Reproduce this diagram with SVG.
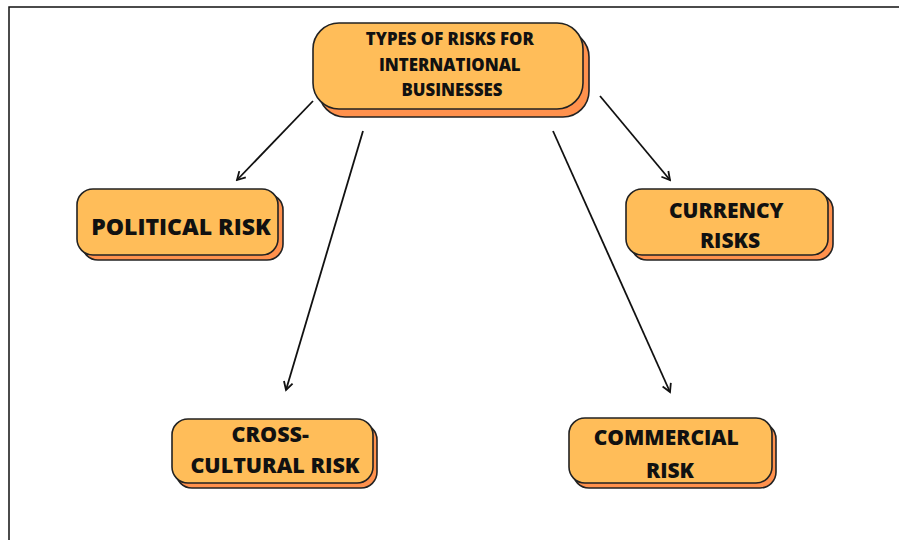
<svg xmlns="http://www.w3.org/2000/svg" width="899" height="540" viewBox="0 0 899 540">
  <style>
    .shadow { fill: #FF914D; stroke: #222; stroke-width: 1.6; }
    .box { fill: #FFBD59; stroke: #222; stroke-width: 1.6; }
    .label { font-family: "Open Sans", "Liberation Sans", sans-serif; font-weight: 800; fill: #111; text-anchor: middle; }
    .edge { stroke: #111; stroke-width: 1.8; fill: none; marker-end: url(#arrow); }
    .frame { stroke: #111; stroke-width: 1.5; fill: none; }
  </style>
  <defs>
    <marker id="arrow" viewBox="0 0 12 12" refX="10" refY="6" markerWidth="12" markerHeight="12" markerUnits="userSpaceOnUse" orient="auto">
      <path d="M2,1.5 L10,6 L2,10.5" fill="none" stroke="#111" stroke-width="1.8"/>
    </marker>
  </defs>
  <rect width="899" height="540" fill="#fff"/>
  <!-- page frame: top and left edges only -->
  <path class="frame" d="M9,540 L9,7 L899,7"/>

  <g id="connectors">
    <line class="edge" x1="313" y1="101" x2="237" y2="180"/>
    <line class="edge" x1="363" y1="131" x2="286" y2="390"/>
    <line class="edge" x1="553" y1="131" x2="670" y2="392"/>
    <line class="edge" x1="600" y1="96" x2="670" y2="180"/>
  </g>

  <g id="node-types">
    <rect class="shadow" x="319" y="31" width="270" height="86" rx="26"/>
    <rect class="box" x="313" y="23" width="270" height="86" rx="26"/>
    <text class="label" font-size="16.8">
      <tspan x="452" y="45">TYPES OF RISKS FOR</tspan>
      <tspan x="452" y="71">INTERNATIONAL</tspan>
      <tspan x="452" y="96">BUSINESSES</tspan>
    </text>
  </g>

  <g id="node-political">
    <rect class="shadow" x="82" y="194" width="201" height="66" rx="16"/>
    <rect class="box" x="77" y="189" width="201" height="66" rx="16"/>
    <text class="label" font-size="23" x="181" y="235">POLITICAL RISK</text>
  </g>

  <g id="node-currency">
    <rect class="shadow" x="631" y="194" width="202" height="66" rx="16"/>
    <rect class="box" x="626" y="189" width="202" height="66" rx="16"/>
    <text class="label" font-size="21">
      <tspan x="729" y="218">CURRENCY</tspan>
      <tspan x="730" y="248">RISKS</tspan>
    </text>
  </g>

  <g id="node-cross-cultural">
    <rect class="shadow" x="176" y="424" width="201" height="64" rx="16"/>
    <rect class="box" x="172" y="419" width="201" height="64" rx="16"/>
    <text class="label" font-size="21.5">
      <tspan x="273" y="442">CROSS-</tspan>
      <tspan x="275" y="473">CULTURAL RISK</tspan>
    </text>
  </g>

  <g id="node-commercial">
    <rect class="shadow" x="573" y="423" width="203" height="65" rx="16"/>
    <rect class="box" x="569" y="418" width="203" height="65" rx="16"/>
    <text class="label" font-size="21">
      <tspan x="669" y="445">COMMERCIAL</tspan>
      <tspan x="670" y="478">RISK</tspan>
    </text>
  </g>
</svg>
